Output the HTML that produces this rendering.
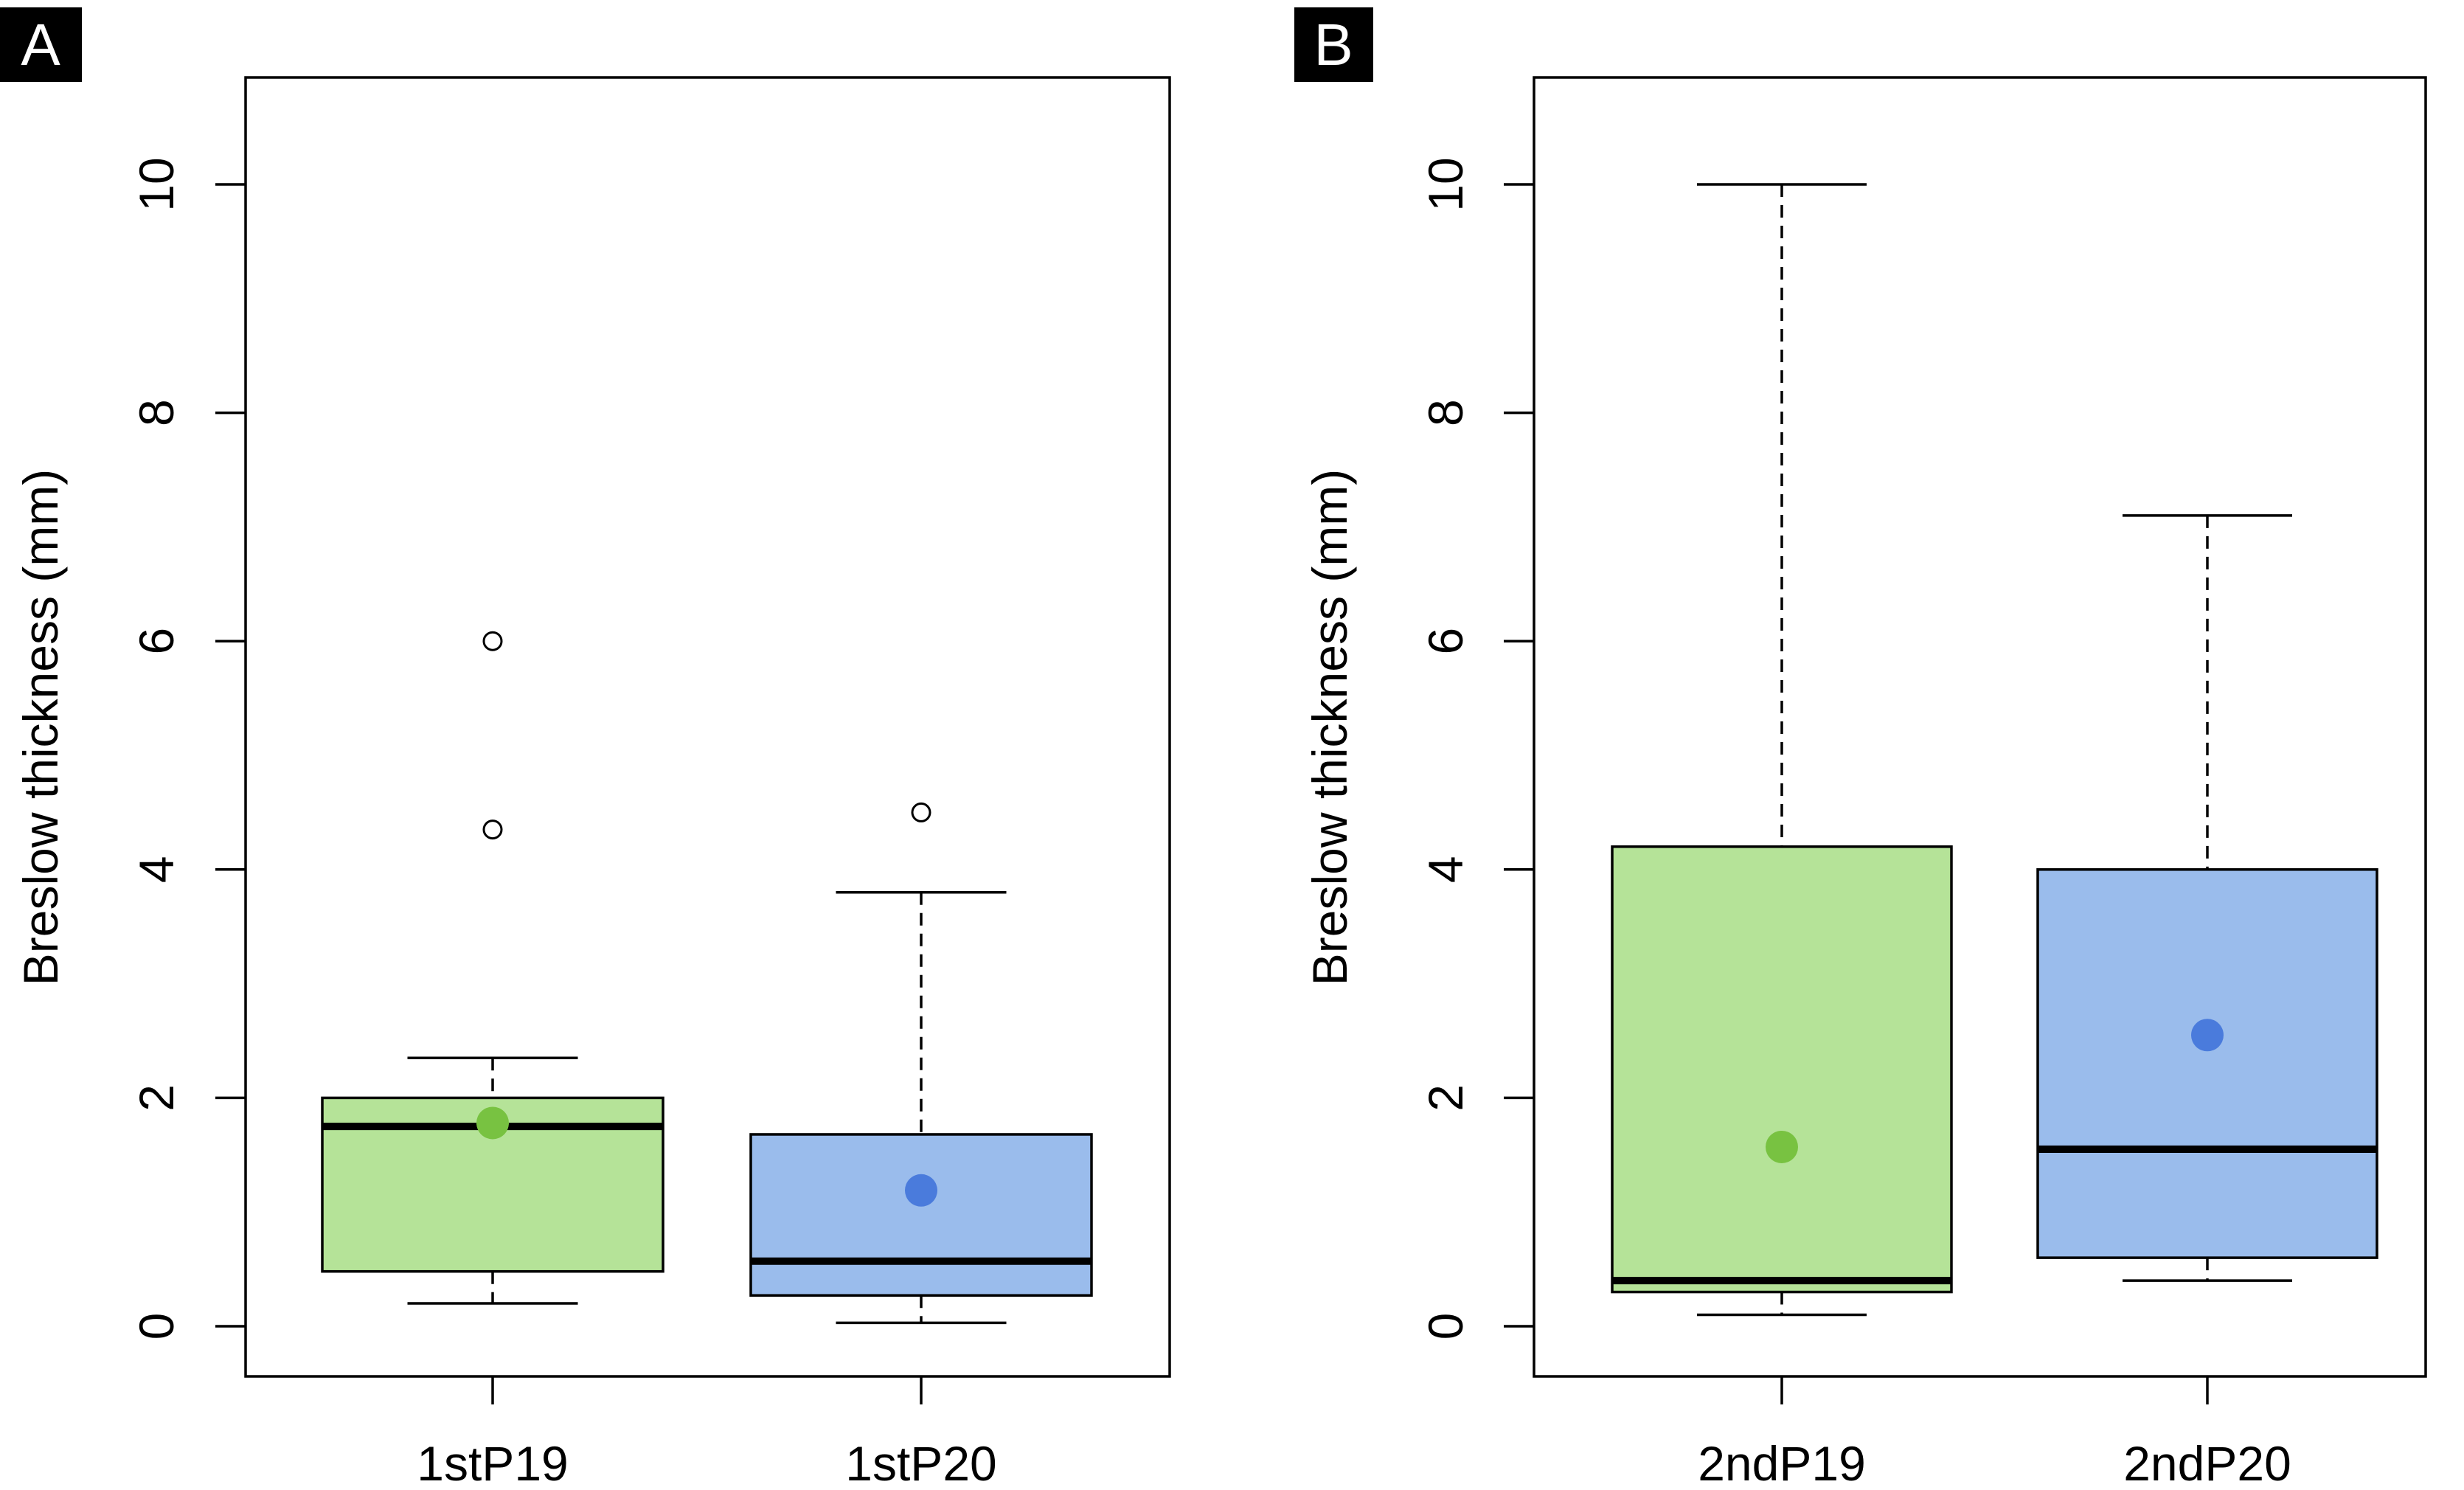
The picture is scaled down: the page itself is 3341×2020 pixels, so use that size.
<!DOCTYPE html>
<html><head><meta charset="utf-8">
<style>
html,body{margin:0;padding:0;background:#fff;}
svg{display:block;font-family:"Liberation Sans",Arial,sans-serif;}
</style></head>
<body>
<svg id="chart" width="3341" height="2020" viewBox="0 0 3341 2020" xmlns="http://www.w3.org/2000/svg">
<rect x="0" y="0" width="3341" height="2020" fill="#fff"/>
<g><rect x="0" y="10" width="111" height="101" fill="#000"/><text x="55" y="88" font-size="80" fill="#fff" text-anchor="middle">A</text></g>
<g><rect x="1755" y="10" width="107" height="101" fill="#000"/><text x="1808" y="88" font-size="80" fill="#fff" text-anchor="middle">B</text></g>
</svg>
<script>
const panelNames = ["panel-a","panel-b"];
const categoriesA = ["1stP19","1stP20"];
const categoriesB = ["2ndP19","2ndP20"];
const whiskerLowA = [0.2, 0.03];
const q1A = [0.48, 0.27];
const medianA = [1.75, 0.57];
const q3A = [2.0, 1.68];
const whiskerHighA = [2.35, 3.8];
const meanA = [1.78, 1.19];
const outliersA = [[4.35, 6.0],[4.5]];
const whiskerLowB = [0.1, 0.4];
const q1B = [0.3, 0.6];
const medianB = [0.4, 1.55];
const q3B = [4.2, 4.0];
const whiskerHighB = [10, 7.1];
const meanB = [1.57, 2.55];
const outliersB = [[],[]];
const yTicks = [0,2,4,6,8,10];
const yTitle = "Breslow thickness (mm)";

const NS = "http://www.w3.org/2000/svg";
const svg = document.getElementById("chart");
const fills = ["#b5e398","#9abcec"];
const dots = ["#78c241","#4a7bdc"];

function mk(tag, attrs, parent){
  const e = document.createElementNS(NS, tag);
  for (const k in attrs) e.setAttribute(k, attrs[k]);
  (parent||svg).appendChild(e);
  return e;
}

function drawPanel(idx, left, right, centers, halfW, titleX, labX, cats, lo, q1, med, q3, hi, mean, outs){
  const top = 105, bottom = 1866;
  const y0 = 1798, y10 = 250;
  const y = v => y0 + (y10 - y0) * v / 10;
  const x = i => centers[i];
  const g = mk("g", {});
  
  

  for (let i = 0; i < cats.length; i++) {
    const bg = mk("g", {}, g);
    
    
    const cx = x(i);
    const w1 = mk("line", {x1:cx, x2:cx, y1:y(hi[i]), y2:y(q3[i]), stroke:"#000", "stroke-width":3.5, "stroke-dasharray":"17 11"}, bg);
    
    
    const w2 = mk("line", {x1:cx, x2:cx, y1:y(q1[i]), y2:y(lo[i]), stroke:"#000", "stroke-width":3.5, "stroke-dasharray":"17 11"}, bg);
    
    
    const c1 = mk("line", {x1:cx-halfW/2, x2:cx+halfW/2, y1:y(hi[i]), y2:y(hi[i]), stroke:"#000", "stroke-width":3.5}, bg);
    
    
    const c2 = mk("line", {x1:cx-halfW/2, x2:cx+halfW/2, y1:y(lo[i]), y2:y(lo[i]), stroke:"#000", "stroke-width":3.5}, bg);
    
    
    const r = mk("rect", {x:cx-halfW, y:y(q3[i]), width:2*halfW, height:y(q1[i])-y(q3[i]), fill:fills[i], stroke:"#000", "stroke-width":3.5}, bg);
    
    
    const m = mk("line", {x1:cx-halfW, x2:cx+halfW, y1:y(med[i]), y2:y(med[i]), stroke:"#000", "stroke-width":10}, bg);
    
    
    const d = mk("circle", {cx:cx, cy:y(mean[i]), r:22, fill:dots[i]}, bg);
    
    
    outs[i].forEach(v => {
      const o = mk("circle", {cx:cx, cy:y(v), r:12, fill:"none", stroke:"#000", "stroke-width":3}, bg);
      
      
    });
    const t = mk("line", {x1:cx, x2:cx, y1:bottom, y2:bottom+38, stroke:"#000", "stroke-width":3.5}, g);
    
    
    const l = mk("text", {x:cx, y:2007, "font-size":66, "text-anchor":"middle", fill:"#000"}, g);
    l.textContent = cats[i];
    
    
  }
  const frame = mk("rect", {x:left, y:top, width:right-left, height:bottom-top, fill:"none", stroke:"#000", "stroke-width":3.5}, g);
  
  
  yTicks.forEach(v => {
    const t = mk("line", {x1:left-41, x2:left, y1:y(v), y2:y(v), stroke:"#000", "stroke-width":3.5}, g);
    
    
    const l = mk("text", {x:labX, y:y(v), "font-size":66, "text-anchor":"middle", fill:"#000", transform:"rotate(-90 " + labX + " " + y(v) + ")"}, g);
    l.textContent = v;
    
    
  });
  const tt = mk("text", {x:titleX, y:986, "font-size":66, "text-anchor":"middle", fill:"#000", transform:"rotate(-90 " + titleX + " 986)"}, g);
  tt.textContent = yTitle;
  
  
}

drawPanel(0, 333, 1586, [668, 1249], 231, 78, 235, categoriesA, whiskerLowA, q1A, medianA, q3A, whiskerHighA, meanA, outliersA);
drawPanel(1, 2080, 3289, [2416, 2993], 230, 1826, 1983, categoriesB, whiskerLowB, q1B, medianB, q3B, whiskerHighB, meanB, outliersB);
</script>
</body></html>
